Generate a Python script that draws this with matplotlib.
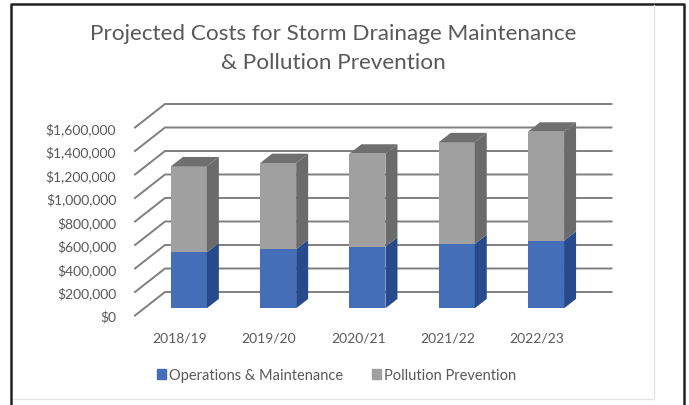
import matplotlib
matplotlib.use("Agg")
import matplotlib.pyplot as plt
from matplotlib.lines import Line2D
from matplotlib.patches import Patch

years = ["2018/19", "2019/20", "2020/21", "2021/22", "2022/23"]
operations = [476000, 502000, 524000, 547000, 575000]
pollution = [732000, 734000, 792000, 866000, 928000]
ticks = [0, 200000, 400000, 600000, 800000, 1000000, 1200000, 1400000, 1600000]

W, H = 689, 406
plt.rcParams['font.family'] = ['Lato', 'DejaVu Sans']

fig = plt.figure(figsize=(W / 100, H / 100), dpi=100)
# the axes is the front plane of the 3D box, the depth is added by project()
ax = fig.add_axes([135 / W, 1 - 316.5 / H, 446.5 / W, 188 / H])
ax.set_xlim(-0.5, 4.5)
ax.set_ylim(0, 1600000)

# depth of the box, in data units
DX = 30 / 89.3
DY = 200000
BAR_W = 36 / 89.3
BAR_D0 = 0.307
BAR_D1 = 0.707
GRID = "#7f7f7f"
TEXT = "#595959"
BLUE = "#446fb8"
GREY = "#a0a0a0"


def project(x, y, d):
    return x + d * DX, y + d * DY


def draw_block(x, y0, y1, front, side, top=None):
    l, r = x - BAR_W / 2, x + BAR_W / 2
    corners = [[(l, y0, BAR_D0), (r, y0, BAR_D0), (r, y1, BAR_D0), (l, y1, BAR_D0)],
               [(r, y0, BAR_D0), (r, y0, BAR_D1), (r, y1, BAR_D1), (r, y1, BAR_D0)]]
    colors = [front, side]
    if top is not None:
        corners.append([(l, y1, BAR_D0), (r, y1, BAR_D0), (r, y1, BAR_D1), (l, y1, BAR_D1)])
        colors.append(top)
    for pts, c in zip(corners, colors):
        xy = [project(*p) for p in pts]
        ax.fill([p[0] for p in xy], [p[1] for p in xy], color=c, lw=0, zorder=3, clip_on=False)


# gridlines: diagonal on the side wall, then along the back wall
for t in ticks:
    x0, y0 = project(-0.5, t, 0)
    x1, y1 = project(-0.5, t, 1)
    x2, y2 = project(4.5, t, 1)
    ax.plot([x0, x1, x2], [y0, y1, y2], color=GRID, lw=1.4, zorder=1, clip_on=False,
            solid_joinstyle="miter")

for i in range(len(years)):
    total = operations[i] + pollution[i]
    draw_block(i, 0, operations[i], BLUE, "#264a8c")
    draw_block(i, operations[i], total, GREY, "#6b6b6b", "#6f6f6f")

for s in ax.spines.values():
    s.set_visible(False)
ax.patch.set_visible(False)
ax.set_xticks(range(len(years)))
ax.set_xticklabels(years)
ax.set_yticks(ticks)
ax.set_yticklabels(["${:,}".format(t) for t in ticks], va="center_baseline")
ax.tick_params(length=0, labelsize=10, labelcolor=TEXT)
ax.tick_params(axis="x", pad=11.5)
ax.tick_params(axis="y", pad=13.5)

fig.text(333 / W, 1 - 48.5 / H, "Projected Costs for Storm Drainage Maintenance\n& Pollution Prevention",
         ha="center", va="center", fontsize=16.2, color=TEXT, linespacing=1.6)

handles = [Patch(color=BLUE, label="Operations & Maintenance"),
           Patch(color=GREY, label="Pollution Prevention")]
fig.legend(handles=handles, loc="center", bbox_to_anchor=(336.5 / W, 1 - 376 / H), ncol=2, frameon=False,
           fontsize=10.5, labelcolor=TEXT, handlelength=0.62, handleheight=0.62, handletextpad=0.2,
           columnspacing=2.0, borderpad=0)

# outer black frame and the faint chart area edge
fig.add_artist(Line2D([11 / W, 11 / W, 683.5 / W, 683.5 / W], [0, 1 - 5 / H, 1 - 5 / H, 0], color="#222222", lw=1.8))
fig.add_artist(Line2D([13 / W, 654 / W, 654 / W], [1 - 400 / H, 1 - 400 / H, 1 - 6 / H], color="#e4e4e4", lw=0.9))

fig.savefig("out.png", dpi=100)
